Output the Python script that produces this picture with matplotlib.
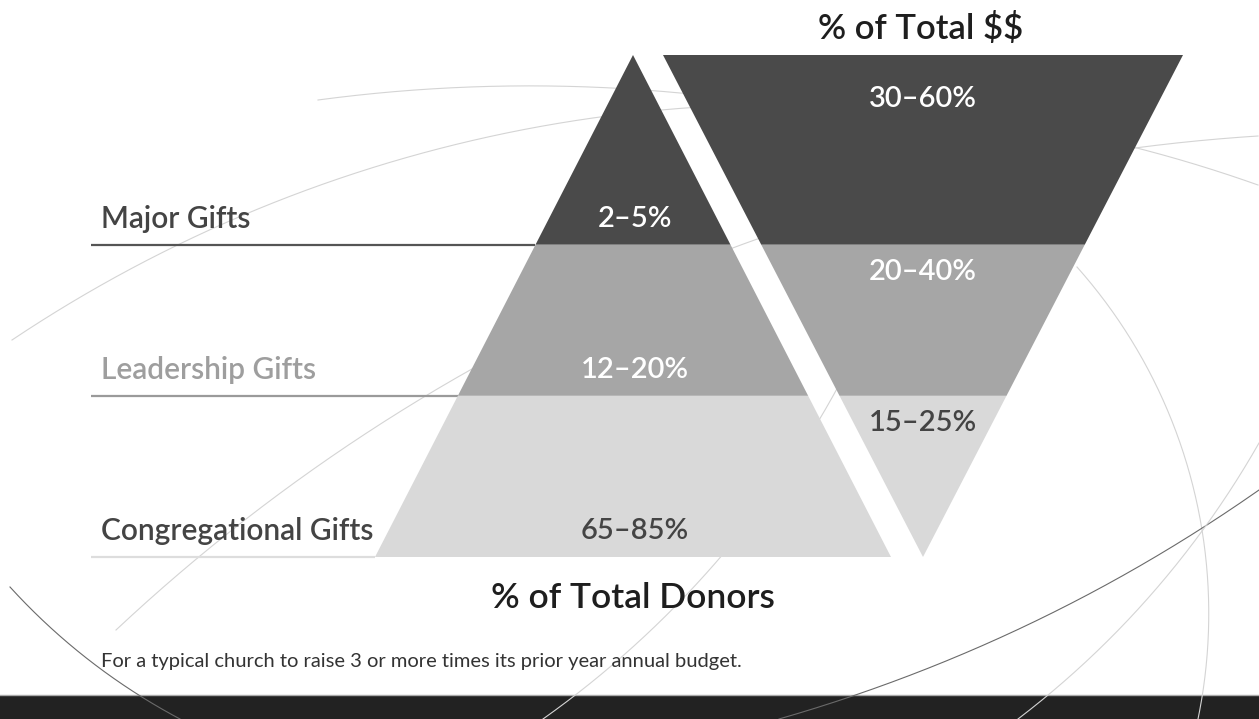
import matplotlib
matplotlib.use('Agg')

import numpy as np
import matplotlib.pyplot as plt
from matplotlib.patches import Polygon, Rectangle

plt.rcParams['font.family'] = ['Lato', 'DejaVu Sans']

# gift tiers, top to bottom
tiers = ['Major Gifts', 'Leadership Gifts', 'Congregational Gifts']
donor_share = ['2\u20135%', '12\u201320%', '65\u201385%']
dollar_share = ['30\u201360%', '20\u201340%', '15\u201325%']
tier_breaks = [0.0, 0.378, 0.679, 1.0]   # fraction of triangle height

shades = ['#4a4a4a', '#a6a6a6', '#d9d9d9']
value_colors = ['white', 'white', '#444444']
label_colors = ['#444444', '#9e9e9e', '#444444']
rule_colors = ['#555555', '#9a9a9a', '#dddddd']

W, H = 1259, 719
top, bottom = 55, 557
pyr_x, pyr_half = 633, 258
inv_x, inv_half = 923, 260


def arc3(ax, p1, p2, p3, **kw):
    # circular arc through three points (background decoration)
    (x1, y1), (x2, y2), (x3, y3) = p1, p2, p3
    d = 2 * (x1 * (y2 - y3) + x2 * (y3 - y1) + x3 * (y1 - y2))
    ux = ((x1**2 + y1**2) * (y2 - y3) + (x2**2 + y2**2) * (y3 - y1) + (x3**2 + y3**2) * (y1 - y2)) / d
    uy = ((x1**2 + y1**2) * (x3 - x2) + (x2**2 + y2**2) * (x1 - x3) + (x3**2 + y3**2) * (x2 - x1)) / d
    r = np.hypot(x1 - ux, y1 - uy)
    a1, a2, a3 = [np.arctan2(y - uy, x - ux) for x, y in (p1, p2, p3)]
    a3u = np.unwrap([a1, a2, a3])
    if not (min(a3u[0], a3u[2]) <= a3u[1] <= max(a3u[0], a3u[2])):
        a3u[2] = a3u[2] - 2 * np.pi * np.sign(a3u[2] - a3u[0])
    t = np.linspace(a3u[0], a3u[2], 300)
    ax.plot(ux + r * np.cos(t), uy + r * np.sin(t), **kw)


fig = plt.figure(figsize=(W / 100, H / 100), dpi=100)
ax = fig.add_axes([0, 0, 1, 1])
ax.set_xlim(0, W)
ax.set_ylim(H, 0)
ax.axis('off')

# background swooshes
light = dict(color='#d4d4d4', lw=0.8, zorder=1)
dark = dict(color='#6a6a6a', lw=0.8, zorder=1)
arc3(ax, (318, 100), (510, 86), (700, 95), **light)
arc3(ax, (12, 340), (600, 117), (1258, 185), **light)
arc3(ax, (10, 587), (61, 637), (180, 719), **dark)
arc3(ax, (116, 630), (738, 246), (1258, 136), **light)
arc3(ax, (543, 719), (718, 560), (880, 300), **light)
arc3(ax, (1077, 267), (1206, 560), (1198, 719), **light)
arc3(ax, (779, 719), (1150, 560), (1259, 490), **dark)
arc3(ax, (1018, 719), (1180, 560), (1259, 443), **light)

span = bottom - top
for i, tier in enumerate(tiers):
    y0 = top + tier_breaks[i] * span
    y1 = top + tier_breaks[i + 1] * span
    # pyramid: % of donors
    w0 = pyr_half * (y0 - top) / span
    w1 = pyr_half * (y1 - top) / span
    ax.add_patch(Polygon([(pyr_x - w0, y0), (pyr_x + w0, y0), (pyr_x + w1, y1), (pyr_x - w1, y1)],
                         closed=True, facecolor=shades[i], edgecolor='none', zorder=3))
    ax.text(pyr_x + 2, y1 - 18, donor_share[i], color=value_colors[i], fontsize=21,
            fontweight='semibold', ha='center', va='baseline', zorder=5)
    # inverted: % of dollars
    v0 = inv_half * (bottom - y0) / span
    v1 = inv_half * (bottom - y1) / span
    ax.add_patch(Polygon([(inv_x - v0, y0), (inv_x + v0, y0), (inv_x + v1, y1), (inv_x - v1, y1)],
                         closed=True, facecolor=shades[i], edgecolor='none', zorder=3))
    ax.text(inv_x, y0 + (52 if i == 0 else 35), dollar_share[i], color=value_colors[i], fontsize=21,
            fontweight='semibold', ha='center', va='baseline', zorder=5)
    # tier label and rule
    ax.plot([91, pyr_x - w1], [y1, y1], color=rule_colors[i], lw=1.6, zorder=2,
            solid_capstyle='butt')
    ax.text(101, y1 - 17, tier, color=label_colors[i], fontsize=21.5, fontweight='semibold',
            ha='left', va='baseline', zorder=5)

ax.text(inv_x - 2, 39, r'% of Total \$\$', color='#1e1e1e', fontsize=25, fontweight='semibold',
        ha='center', va='baseline', zorder=5)
ax.text(pyr_x, 608, '% of Total Donors', color='#1e1e1e', fontsize=25.5, fontweight='semibold',
        ha='center', va='baseline', zorder=5)
ax.text(101, 667, 'For a typical church to raise 3 or more times its prior year annual budget.',
        color='#333333', fontsize=14.5, ha='left', va='baseline', zorder=5)

# footer band
ax.add_patch(Rectangle((0, 695), W, H - 695, facecolor='#222222', edgecolor='none', zorder=0.5))
ax.plot([0, W], [694.5, 694.5], color='#aaaaaa', lw=1, zorder=0.6)

fig.savefig('out.png', dpi=100)
